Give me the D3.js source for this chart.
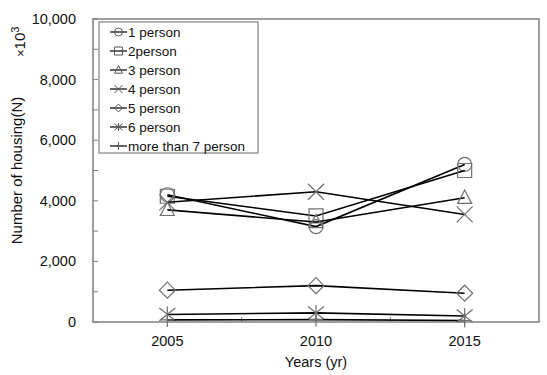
<!DOCTYPE html>
<html>
<head>
<meta charset="utf-8">
<script src="https://cdn.jsdelivr.net/npm/d3@7"></script>
<style>
  body { margin: 0; background: #fff; }
  text { font-family: "Liberation Sans", Arial, sans-serif; fill: #111; }
</style>
</head>
<body>
<div class="container"></div>
<script>
// data (values in 10^3)
const years = [2005, 2010, 2015];
const seriesNames = ["1 person", "2person", "3 person", "4 person", "5 person", "6 person", "more than 7 person"];
const markerTypes = ["circle", "square", "triangle", "x", "diamond", "asterisk", "plus"];
const person1 = [4200, 3150, 5200];
const person2 = [4150, 3500, 5000];
const person3 = [3700, 3300, 4100];
const person4 = [3950, 4300, 3550];
const person5 = [1050, 1200, 950];
const person6 = [250, 300, 200];
const person7 = [70, 80, 50];
const yTicks = [0, 2000, 4000, 6000, 8000, 10000];
const yMinorTicks = [1000, 3000, 5000, 7000, 9000];
const xMinorTicks = [2007.5, 2012.5];

const allSeries = [person1, person2, person3, person4, person5, person6, person7];

const w = 547, h = 375;
const padding = {left: 93, top: 19, right: 8, bottom: 53};

const xScale = d3.scaleLinear()
  .domain([2002.5, 2017.5])
  .range([padding.left, w - padding.right]);
const yScale = d3.scaleLinear()
  .domain([0, 10000])
  .range([h - padding.bottom, padding.top]);

const svg = d3.select(".container").append("svg")
  .attr("width", w)
  .attr("height", h);

// marker shapes, s = half size
function markerPath(type, s) {
  switch (type) {
    case "circle":
      return `M${-s},0A${s},${s} 0 1,0 ${s},0A${s},${s} 0 1,0 ${-s},0Z`;
    case "square":
      return `M${-s},${-s}H${s}V${s}H${-s}Z`;
    case "triangle":
      return `M0,${-s * 1.1}L${s},${s * 0.8}H${-s}Z`;
    case "x":
      return `M${-s},${-s}L${s},${s}M${-s},${s}L${s},${-s}`;
    case "diamond":
      return `M0,${-s}L${s},0L0,${s}L${-s},0Z`;
    case "asterisk":
      return `M${-s},${-s * 0.8}L${s},${s * 0.8}M${-s},${s * 0.8}L${s},${-s * 0.8}M0,${-s}V${s}`;
    case "plus":
      return `M${-s},0H${s}M0,${-s}V${s}`;
  }
}

// plot frame
svg.append("rect")
  .attr("x", padding.left)
  .attr("y", padding.top)
  .attr("width", w - padding.left - padding.right)
  .attr("height", h - padding.top - padding.bottom)
  .attr("fill", "none")
  .attr("stroke", "#808080")
  .attr("stroke-width", 1.5);

// inner ticks
const x0 = padding.left;
svg.selectAll(".ytick")
  .data(yTicks.concat(yMinorTicks))
  .enter().append("line")
  .attr("x1", x0).attr("x2", x0 + 5)
  .attr("y1", d => yScale(d)).attr("y2", d => yScale(d))
  .attr("stroke", "#808080").attr("stroke-width", 1);

svg.selectAll(".xtick")
  .data(years.concat(xMinorTicks))
  .enter().append("line")
  .attr("x1", d => xScale(d)).attr("x2", d => xScale(d))
  .attr("y1", yScale(0)).attr("y2", yScale(0) - 5)
  .attr("stroke", "#808080").attr("stroke-width", 1);

// tick labels
svg.selectAll(".ylabel")
  .data(yTicks)
  .enter().append("text")
  .attr("x", 76)
  .attr("y", d => yScale(d) + 5)
  .attr("text-anchor", "end")
  .attr("font-size", "14.5px")
  .text(d => d3.format(",")(d));

svg.selectAll(".xlabel")
  .data(years)
  .enter().append("text")
  .attr("x", d => xScale(d))
  .attr("y", 346)
  .attr("text-anchor", "middle")
  .attr("font-size", "14.5px")
  .text(d => d);

// axis titles
svg.append("text")
  .attr("x", xScale(2010))
  .attr("y", 367)
  .attr("text-anchor", "middle")
  .attr("font-size", "14.5px")
  .text("Years (yr)");

svg.append("text")
  .attr("transform", "translate(22," + yScale(5000) + ") rotate(-90)")
  .attr("text-anchor", "middle")
  .attr("font-size", "15px")
  .text("Number of housing(N)");

const unit = svg.append("text")
  .attr("transform", "translate(25,57) rotate(-90)")
  .attr("font-size", "15px");
unit.append("tspan").attr("font-size", "13px").text("\u00d7");
unit.append("tspan").text("10");
unit.append("tspan").attr("font-size", "11px").attr("dy", -6).text("3");

// lines and markers
const line = d3.line()
  .x((d, i) => xScale(years[i]))
  .y(d => yScale(d));

allSeries.forEach((vals, k) => {
  const g = svg.append("g");
  g.append("path")
    .datum(vals)
    .attr("d", line)
    .attr("fill", "none")
    .attr("stroke", "#000")
    .attr("stroke-width", 1.6);
  g.selectAll("path.m")
    .data(vals)
    .enter().append("path")
    .attr("class", "m")
    .attr("transform", (d, i) => `translate(${xScale(years[i])},${yScale(d)})`)
    .attr("d", markerPath(markerTypes[k], k === 4 || k === 3 || k === 5 ? 8 : 7))
    .attr("fill", "none")
    .attr("stroke", "#707070")
    .attr("stroke-width", 1.2);
});

// legend
const legend = svg.append("g");
legend.append("rect")
  .attr("x", 99).attr("y", 22)
  .attr("width", 159).attr("height", 131)
  .attr("fill", "#fff")
  .attr("stroke", "#808080")
  .attr("stroke-width", 1.2);

seriesNames.forEach((name, k) => {
  const y = 32 + k * 19;
  legend.append("line")
    .attr("x1", 110).attr("x2", 127)
    .attr("y1", y).attr("y2", y)
    .attr("stroke", "#000").attr("stroke-width", 1.2);
  legend.append("path")
    .attr("transform", `translate(118.5,${y})`)
    .attr("d", markerPath(markerTypes[k], 4))
    .attr("fill", "none")
    .attr("stroke", "#555")
    .attr("stroke-width", 1);
  legend.append("text")
    .attr("x", 128).attr("y", y + 5)
    .attr("font-size", "13.5px")
    .text(name);
});
</script>
</body>
</html>
